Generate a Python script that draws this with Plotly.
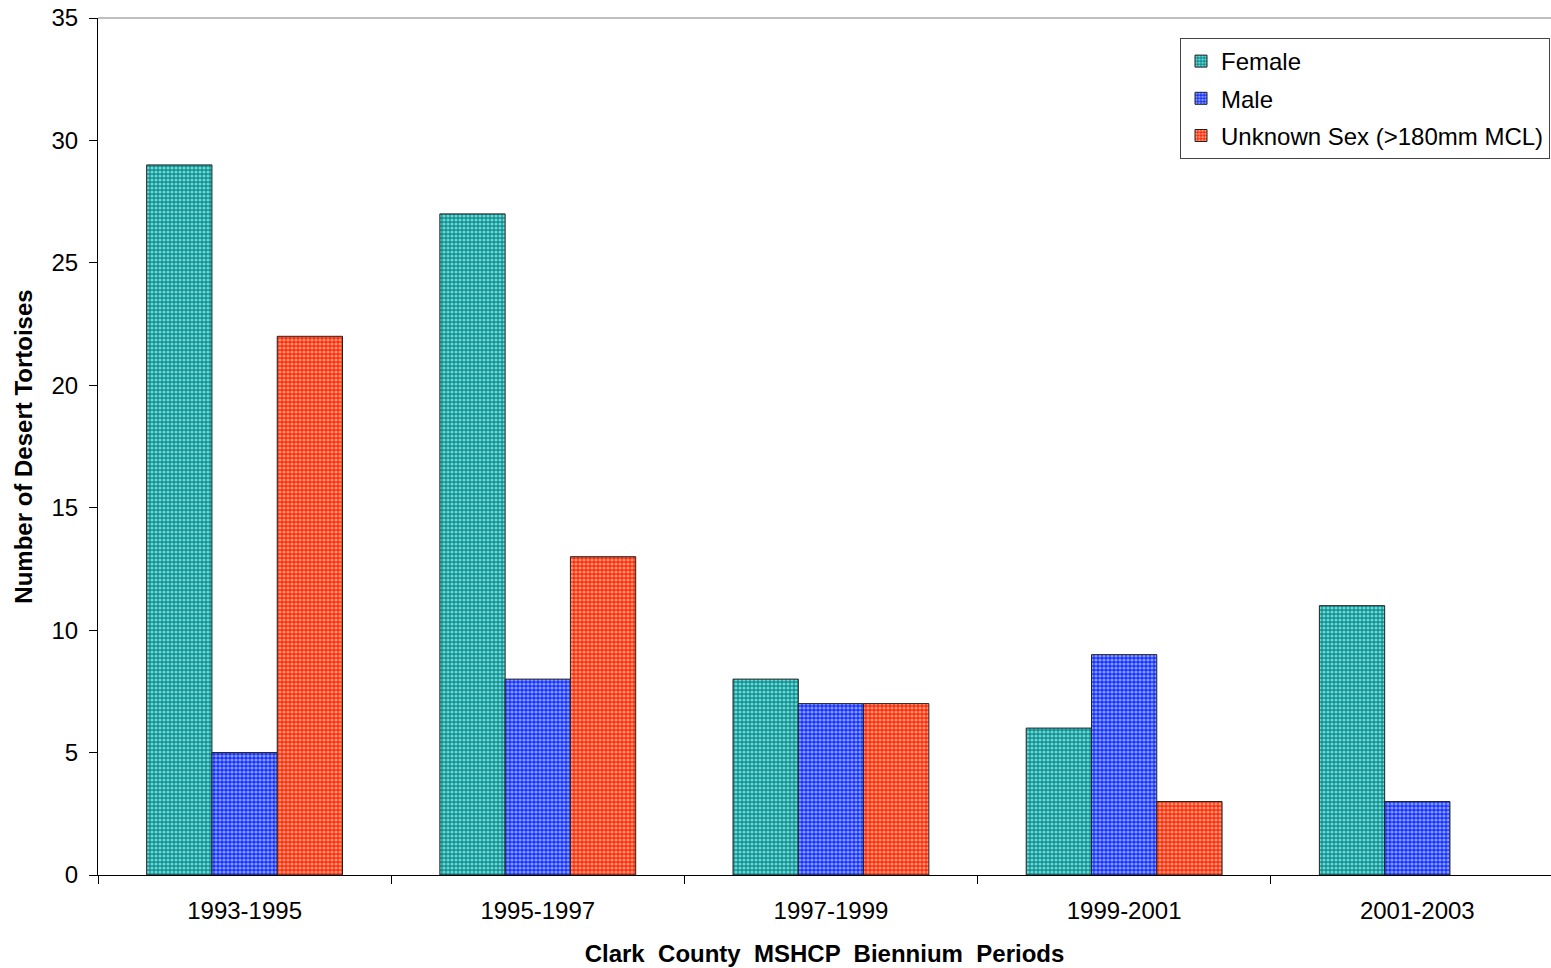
import plotly.graph_objects as go

periods = ["1993-1995", "1995-1997", "1997-1999", "1999-2001", "2001-2003"]
female = [29, 27, 8, 6, 11]
male = [5, 8, 7, 9, 3]
unknown = [22, 13, 7, 3, None]

series_names = ["Female", "Male", "Unknown Sex (>180mm MCL)"]
series_colors = ["#009696", "#1433ff", "#ff2a00"]
series_values = [female, male, unknown]

FONT = "Liberation Sans, Arial, sans-serif"

fig = go.Figure()
for i, (name, color, vals) in enumerate(zip(series_names, series_colors, series_values)):
    fig.add_trace(go.Bar(
        x=periods, y=vals, name=name,
        legendgroup=name,
        marker=dict(
            color=color,
            line=dict(color="#222222", width=1),
            pattern=dict(shape=".", fgcolor="white", bgcolor=color, size=4, solidity=0.5),
        ),
    ))

W, H = 1551, 968
L, T, B = 98, 18, 93
PH = H - T - B
fig.update_layout(
    width=W, height=H,
    margin=dict(l=L, r=0, t=T, b=B),
    paper_bgcolor="white", plot_bgcolor="white",
    barmode="group", bargap=0.332, bargroupgap=0,
    font=dict(family=FONT, size=24, color="black"),
    showlegend=True,
    legend=dict(
        x=(1180 - L) / (W - L), xref="paper",
        y=1 - (38 - T) / PH, yanchor="top", xanchor="left",
        bordercolor="#444444", borderwidth=1, bgcolor="white",
        font=dict(family=FONT, size=24),
        tracegroupgap=3,
    ),
    xaxis=dict(
        range=[-0.5, 4.456],
        automargin=False,
        showline=True, linecolor="black", linewidth=1,
        ticks="outside", ticklen=8, tickcolor="black",
        tickson="boundaries",
        ticklabelstandoff=14,
        showgrid=False, zeroline=False,
        tickfont=dict(size=24),
        title=dict(text="<b>Clark  County  MSHCP  Biennium  Periods</b>", font=dict(size=24), standoff=22),
    ),
    yaxis=dict(
        range=[0, 35], dtick=5,
        automargin=False,
        showline=True, linecolor="black", linewidth=1,
        ticks="outside", ticklen=8, tickcolor="black",
        ticklabelstandoff=6,
        ticklabeloverflow="allow",
        showgrid=False, zeroline=False,
        tickfont=dict(size=24),
        title=dict(text="<b>Number of Desert Tortoises</b>", font=dict(size=24), standoff=12),
    ),
)

fig.add_shape(type="line", xref="paper", yref="paper", x0=0, x1=1, y0=1, y1=1,
              line=dict(color="#808080", width=1))

fig.write_html("out.html",
               config={"displayModeBar": False},
               post_script="document.body.style.margin='0';document.body.style.overflow='hidden';")
